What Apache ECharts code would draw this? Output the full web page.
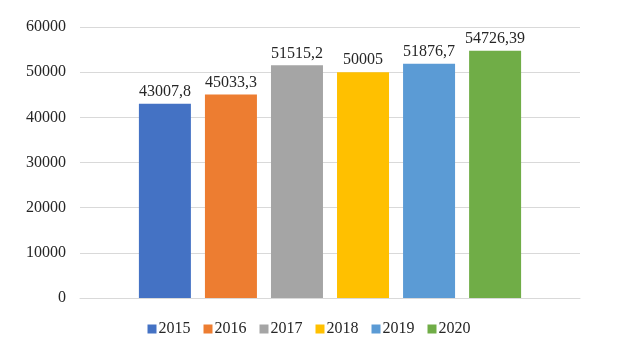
<!DOCTYPE html>
<html>
<head>
<meta charset="utf-8">
<script src="https://cdn.jsdelivr.net/npm/echarts@6/dist/echarts.min.js"></script>
<style>
  html, body { margin: 0; padding: 0; background: #fff; }
  #chart { width: 618px; height: 349px; }
</style>
</head>
<body>
<div id="chart"></div>
<script>
// Yearly totals, one bar per year
const years = ['2015', '2016', '2017', '2018', '2019', '2020'];
const values = [43007.8, 45033.3, 51515.2, 50005, 51876.7, 54726.39];
const colors = ['#4472C4', '#ED7D31', '#A5A5A5', '#FFC000', '#5B9BD5', '#70AD47'];
const yTicks = { min: 0, max: 60000, interval: 10000 };

const font = '"Liberation Serif", "Times New Roman", serif';

const series = years.map((y, i) => ({
  name: y,
  type: 'bar',
  data: [values[i]],
  barWidth: 52,
  barGap: '27%',
  itemStyle: { color: colors[i] },
  label: {
    show: true,
    position: 'top',
    distance: 4,
    fontFamily: font,
    fontSize: 16,
    color: '#262626',
    formatter: p => String(p.value).replace('.', ',')
  }
}));

const chart = echarts.init(document.getElementById('chart'), null, { renderer: 'canvas' });
chart.setOption({
  animation: false,
  grid: { left: 80, right: 38, top: 27, bottom: 51 },
  legend: {
    data: years,
    top: 316,
    left: 'center',
    icon: 'rect',
    itemWidth: 9,
    itemHeight: 9,
    itemGap: 13,
    textStyle: { fontFamily: font, fontSize: 16, color: '#262626', padding: [0, 0, 0, -3] }
  },
  xAxis: {
    type: 'category',
    data: [''],
    axisTick: { show: false },
    axisLabel: { show: false },
    axisLine: { lineStyle: { color: '#D9D9D9' } }
  },
  yAxis: {
    type: 'value',
    min: yTicks.min,
    max: yTicks.max,
    interval: yTicks.interval,
    axisLine: { show: false },
    axisTick: { show: false },
    axisLabel: { fontFamily: font, fontSize: 16, color: '#262626', margin: 14, formatter: v => String(v) },
    splitLine: { lineStyle: { color: '#D9D9D9' } }
  },
  series
});
</script>
</body>
</html>
